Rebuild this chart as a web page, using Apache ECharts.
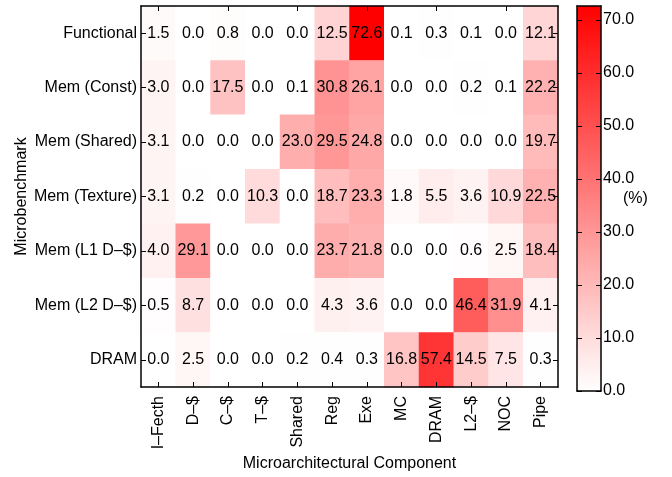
<!DOCTYPE html>
<html>
<head>
<meta charset="utf-8">
<script src="https://cdn.jsdelivr.net/npm/echarts@6/dist/echarts.min.js"></script>
<style>
html,body{margin:0;padding:0;background:#fff;}
#c{width:672px;height:477px;}
</style>
</head>
<body>
<div id="c"></div>
<script>
var components = ['I–Fecth','D–$','C–$','T–$','Shared','Reg','Exe','MC','DRAM','L2–$','NOC','Pipe'];
var benchmarks = ['Functional','Mem (Const)','Mem (Shared)','Mem (Texture)','Mem (L1 D–$)','Mem (L2 D–$)','DRAM'];
var rowFunctional = [1.5, 0.0, 0.8, 0.0, 0.0, 12.5, 72.6, 0.1, 0.3, 0.1, 0.0, 12.1];
var rowConst      = [3.0, 0.0, 17.5, 0.0, 0.1, 30.8, 26.1, 0.0, 0.0, 0.2, 0.1, 22.2];
var rowShared     = [3.1, 0.0, 0.0, 0.0, 23.0, 29.5, 24.8, 0.0, 0.0, 0.0, 0.0, 19.7];
var rowTexture    = [3.1, 0.2, 0.0, 10.3, 0.0, 18.7, 23.3, 1.8, 5.5, 3.6, 10.9, 22.5];
var rowL1         = [4.0, 29.1, 0.0, 0.0, 0.0, 23.7, 21.8, 0.0, 0.0, 0.6, 2.5, 18.4];
var rowL2         = [0.5, 8.7, 0.0, 0.0, 0.0, 4.3, 3.6, 0.0, 0.0, 46.4, 31.9, 4.1];
var rowDRAM       = [0.0, 2.5, 0.0, 0.0, 0.2, 0.4, 0.3, 16.8, 57.4, 14.5, 7.5, 0.3];
var colorbarTicks = [0, 10, 20, 30, 40, 50, 60, 70];
var colorMin = 0, colorMax = 72.6;

var rows = [rowFunctional, rowConst, rowShared, rowTexture, rowL1, rowL2, rowDRAM];
var data = [];
rows.forEach(function(r, yi){ r.forEach(function(v, xi){ data.push([xi, yi, v]); }); });

var FONT = 'Liberation Sans, Arial, Helvetica, sans-serif';
var FS = 16;
var chart = echarts.init(document.getElementById('c'));
var axisLineStyle = {color:'#000', width:1.5};
function line(){ return {show:true, onZero:false, lineStyle:axisLineStyle}; }
chart.setOption({
  animation:false,
  textStyle:{fontFamily:FONT},
  grid:[
    {left:141, top:6, width:417, height:384, show:false},
    {left:577, top:6, width:24, height:385, show:false}
  ],
  xAxis:[
    {type:'category', gridIndex:0, data:components, position:'bottom', z:10,
     axisLine:line(),
     axisTick:{show:true, inside:true, alignWithLabel:true, length:5, lineStyle:{color:'#000'}},
     axisLabel:{rotate:90, margin:9, color:'#000', fontSize:FS, fontFamily:FONT, interval:0},
     name:'Microarchitectural Component', nameLocation:'middle', nameGap:69, nameMoveOverlap:false,
     nameTextStyle:{color:'#000', fontSize:FS, fontFamily:FONT},
     splitLine:{show:false}},
    {type:'category', gridIndex:0, data:components, position:'top', z:10,
     axisLine:line(),
     axisTick:{show:true, inside:true, alignWithLabel:true, length:5, lineStyle:{color:'#000'}},
     axisLabel:{show:false}, splitLine:{show:false}},
    {type:'value', gridIndex:1, min:0, max:1, position:'bottom', z:10,
     axisLine:line(), axisTick:{show:false}, axisLabel:{show:false}, splitLine:{show:false}},
    {type:'value', gridIndex:1, min:0, max:1, position:'top', z:10,
     axisLine:line(), axisTick:{show:false}, axisLabel:{show:false}, splitLine:{show:false}}
  ],
  yAxis:[
    {type:'category', gridIndex:0, data:benchmarks, inverse:true, position:'left', z:10,
     axisLine:line(),
     axisTick:{show:true, inside:true, alignWithLabel:true, length:5, lineStyle:{color:'#000'}},
     axisLabel:{margin:4, color:'#000', fontSize:FS, fontFamily:FONT, interval:0},
     name:'Microbenchmark', nameLocation:'middle', nameGap:111, nameRotate:90, nameMoveOverlap:false,
     nameTextStyle:{color:'#000', fontSize:FS, fontFamily:FONT},
     splitLine:{show:false}},
    {type:'category', gridIndex:0, data:benchmarks, inverse:true, position:'right', z:10,
     axisLine:line(),
     axisTick:{show:true, inside:true, alignWithLabel:true, length:5, lineStyle:{color:'#000'}},
     axisLabel:{show:false}, splitLine:{show:false}},
    {type:'value', gridIndex:1, min:colorMin, max:colorMax, position:'left', z:10,
     axisLine:line(),
     axisTick:{show:true, inside:true, length:5, customValues:colorbarTicks, lineStyle:{color:'#000'}},
     axisLabel:{show:false}, splitLine:{show:false}},
    {type:'value', gridIndex:1, min:colorMin, max:colorMax, position:'right', z:10,
     axisLine:line(),
     axisTick:{show:true, inside:true, length:5, customValues:colorbarTicks, lineStyle:{color:'#000'}},
     axisLabel:{show:true, margin:2, customValues:colorbarTicks, color:'#000', fontSize:FS, fontFamily:FONT,
       formatter:function(v){return v.toFixed(1);}},
     name:'(%)', nameLocation:'middle', nameGap:22, nameRotate:0, nameMoveOverlap:false,
     nameTextStyle:{color:'#000', fontSize:FS, fontFamily:FONT, padding:[20,0,0,0]},
     splitLine:{show:false}}
  ],
  visualMap:{
    type:'continuous', min:colorMin, max:colorMax, seriesIndex:0, calculable:false,
    orient:'vertical', left:577, top:6, itemWidth:24, itemHeight:385, padding:0,
    inRange:{color:['#ffffff','#ff0000']}, text:null, hoverLink:false, z:1
  },
  series:[{
    type:'heatmap', xAxisIndex:0, yAxisIndex:0, data:data,
    itemStyle:{borderWidth:0},
    label:{show:true, color:'#000', fontSize:FS, fontFamily:FONT,
      formatter:function(p){return p.value[2].toFixed(1);}},
    emphasis:{disabled:true}
  }]
});
</script>
</body>
</html>
